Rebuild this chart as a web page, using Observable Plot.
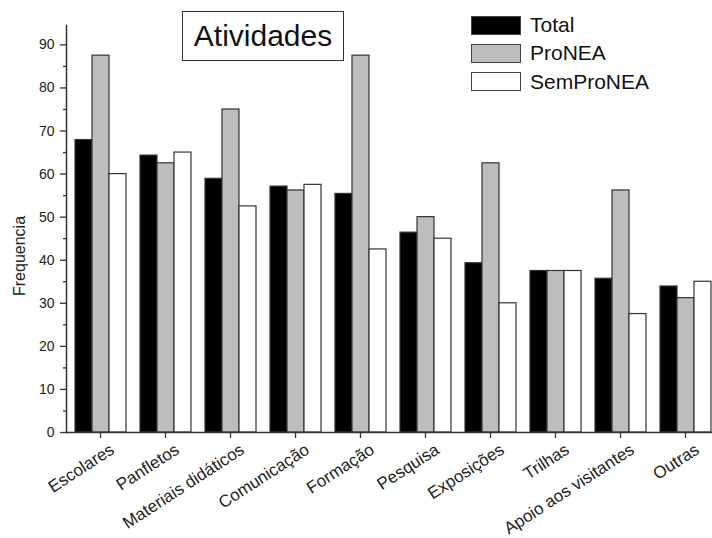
<!DOCTYPE html>
<html><head><meta charset="utf-8">
<script src="https://cdn.jsdelivr.net/npm/d3@7"></script>
<script src="https://cdn.jsdelivr.net/npm/@observablehq/plot@0.6"></script>
<style>
body{margin:0;background:#fff;}
#wrap{position:relative;width:712px;height:538px;overflow:hidden;font-family:"Liberation Sans",Arial,sans-serif;color:#111;}
#chart,#axes{position:absolute;left:0;top:0;}
#title{position:absolute;left:182px;top:11px;width:160px;height:48px;border:1.6px solid #333;font-size:30px;line-height:48px;text-align:center;background:#fff;}
#legend{position:absolute;left:471px;top:11px;}
.item{display:flex;align-items:center;height:28.3px;font-size:21px;}
.sw{width:48px;height:17px;border:1.6px solid #444;margin-right:9px;box-sizing:content-box;}
</style>
</head><body>
<div id="wrap"><div id="chart"></div><div id="axes"></div><div id="title"></div><div id="legend"></div></div>
<script>
const categories = ["Escolares","Panfletos","Materiais didáticos","Comunicação","Formação","Pesquisa","Exposições","Trilhas","Apoio aos visitantes","Outras"];
const seriesNames = ["Total","ProNEA","SemProNEA"];
const total = [67.9, 64.3, 58.9, 57.1, 55.4, 46.4, 39.3, 37.5, 35.7, 33.9];
const pronea = [87.5, 62.5, 75.0, 56.2, 87.5, 50.0, 62.5, 37.5, 56.2, 31.2];
const semPronea = [60.0, 65.0, 52.5, 57.5, 42.5, 45.0, 30.0, 37.5, 27.5, 35.0];
const majorTicks = [0,10,20,30,40,50,60,70,80,90];
const minorTicks = [5,15,25,35,45,55,65,75,85];
const colors = ["#000000","#bdbdbd","#ffffff"];
const titleText = "Atividades";
const yLabel = "Frequencia";

const valuesBySeries = [total, pronea, semPronea];
const data = categories.flatMap((c, i) => seriesNames.map((s, j) => ({cat: c, s, v: valuesBySeries[j][i]})));

const common = {
  width: 712, height: 538,
  marginLeft: 66, marginRight: -8, marginTop: 25, marginBottom: 106,
  style: {fontFamily: "'Liberation Sans', Arial, sans-serif", color: "#222", background: "transparent"}
};
const yScale = {domain: [0, 94.5], axis: null};

const chart = Plot.plot({
  ...common,
  fx: {domain: categories, paddingInner: 0.195, paddingOuter: 0.098, label: null, axis: null},
  x: {domain: seriesNames, padding: 0, axis: null},
  y: yScale,
  color: {domain: seriesNames, range: colors},
  marks: [
    Plot.barY(data, {fx: "cat", x: "s", y: "v", fill: "s", stroke: "#333", strokeWidth: 1.2}),
    Plot.axisFx({anchor: "bottom", tickSize: 6, text: null, label: null, stroke: "#333", strokeWidth: 1.3}),
    Plot.text(categories, {fx: d => d, text: d => d, frameAnchor: "bottom", rotate: -33, textAnchor: "end", lineAnchor: "bottom", dx: 15, dy: 20, fontSize: 17, fill: "#222"})
  ]
});
document.getElementById("chart").appendChild(chart);

const axes = Plot.plot({
  ...common,
  y: yScale,
  marks: [
    Plot.frame({anchor: "left", stroke: "#333", strokeWidth: 1.5}),
    Plot.frame({anchor: "bottom", stroke: "#333", strokeWidth: 1.5}),
    Plot.axisY({ticks: majorTicks, tickSize: 6, tickPadding: 6, fontSize: 14, label: null, tickFormat: d3.format("d"), stroke: "#333", strokeWidth: 1.3}),
    Plot.axisY({ticks: minorTicks, tickSize: 3, text: null, label: null, stroke: "#333", strokeWidth: 1.3}),
    Plot.text([yLabel], {frameAnchor: "left", rotate: -90, dx: -47, dy: 67, fontSize: 16, fill: "#222"})
  ]
});
document.getElementById("axes").appendChild(axes);

document.getElementById("title").textContent = titleText;
const legend = document.getElementById("legend");
seriesNames.forEach((s, j) => {
  const it = document.createElement("div"); it.className = "item";
  const sw = document.createElement("div"); sw.className = "sw"; sw.style.background = colors[j];
  const t = document.createElement("span"); t.textContent = s;
  it.appendChild(sw); it.appendChild(t); legend.appendChild(it);
});
</script>
</body></html>
